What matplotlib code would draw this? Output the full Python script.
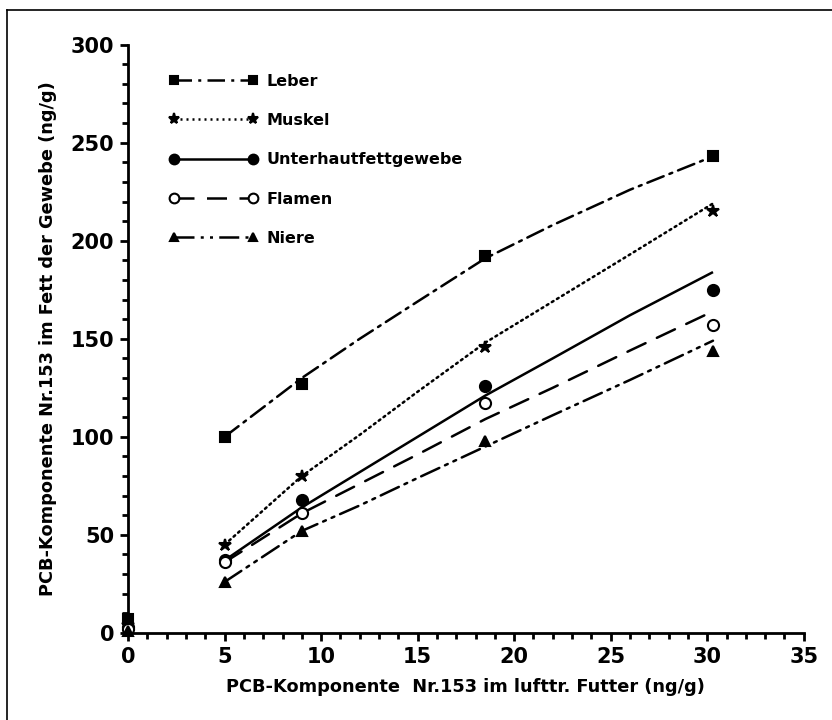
import matplotlib.pyplot as plt
from matplotlib.ticker import MultipleLocator
from matplotlib.lines import Line2D

plt.rcParams['font.family'] = ['DejaVu Sans']
plt.rcParams['font.weight'] = 'bold'

# Measured points (x = PCB in feed, y = PCB in tissue fat)
x_pts = [0, 5, 9, 18.5, 30.3]
leber = [7, 100, 127, 192, 243]
muskel = [4, 45, 80, 146, 215]
unterhaut = [3, 37, 68, 126, 175]
flamen = [2, 36, 61, 117, 157]
niere = [1, 26, 52, 98, 144]

# Hand-drawn curves
x_curve = [5, 9, 12, 15, 18.5, 22, 26, 30.3]
leber_curve = [100, 130, 150, 169, 191, 208, 226, 243]
muskel_curve = [45, 80, 101, 123, 148, 169, 193, 219]
unterhaut_curve = [37, 64, 82, 100, 121, 140, 162, 184]
flamen_curve = [36, 61, 76, 91, 109, 125, 144, 164]
niere_curve = [26, 52, 65, 79, 95, 111, 129, 149]

labels = ['Leber', 'Muskel', 'Unterhautfettgewebe', 'Flamen', 'Niere']

fig = plt.figure(figsize=(8.32, 7.2), dpi=100)
ax = fig.add_axes([0.154, 0.121, 0.812, 0.817])

series = [
    (leber, leber_curve, 's', 'k', (0, (7, 2.5, 1.2, 2.5))),
    (muskel, muskel_curve, '*', 'k', (0, (0.8, 1.6))),
    (unterhaut, unterhaut_curve, 'o', 'k', '-'),
    (flamen, flamen_curve, 'o', 'white', (0, (8, 5))),
    (niere, niere_curve, '^', 'k', (0, (8, 2.5, 1.2, 2.5, 1.2, 2.5))),
]
msizes = {'s': 7, '*': 9, 'o': 8, '^': 7}

handles = []
for (pts, curve, m, fc, ls), lab in zip(series, labels):
    ax.plot(x_curve, curve, color='k', lw=1.8, linestyle=ls,
            dash_capstyle='round', solid_capstyle='butt')
    ax.plot(x_pts, pts, linestyle='none', marker=m, markersize=msizes[m],
            markerfacecolor=fc, markeredgecolor='k', markeredgewidth=1.5,
            clip_on=False, zorder=3)
    handles.append(Line2D([], [], color='k', lw=1.8, linestyle=ls,
                          marker=m, markersize=msizes[m] - 1,
                          markerfacecolor=fc, markeredgecolor='k',
                          markeredgewidth=1.5))

ax.legend(handles, labels, loc='upper left', bbox_to_anchor=(0.04, 0.975),
          frameon=False, numpoints=2, handlelength=5.5, handletextpad=0.55,
          labelspacing=1.52, prop={'size': 11.5, 'weight': 'bold'})

ax.set_xlim(0, 35)
ax.set_ylim(0, 300)
ax.xaxis.set_major_locator(MultipleLocator(5))
ax.xaxis.set_minor_locator(MultipleLocator(1))
ax.yaxis.set_major_locator(MultipleLocator(50))
ax.yaxis.set_minor_locator(MultipleLocator(10))
ax.tick_params(which='major', length=6, width=2, labelsize=15, pad=4)
ax.tick_params(which='minor', length=4, width=2)
for s in ['top', 'right']:
    ax.spines[s].set_visible(False)
for s in ['left', 'bottom']:
    ax.spines[s].set_linewidth(2)

ax.set_xlabel('PCB-Komponente  Nr.153 im lufttr. Futter (ng/g)', fontsize=12.8,
              fontweight='bold', labelpad=8)
ax.set_ylabel('PCB-Komponente Nr.153 im Fett der Gewebe (ng/g)', fontsize=12.8,
              fontweight='bold', labelpad=10)

# frame lines around the page
fig.add_artist(Line2D([0.008, 0.008], [0.0, 0.986], color='k', lw=1.2))
fig.add_artist(Line2D([0.008, 1.0], [0.986, 0.986], color='k', lw=1.2))

fig.savefig('out.png', dpi=100)
